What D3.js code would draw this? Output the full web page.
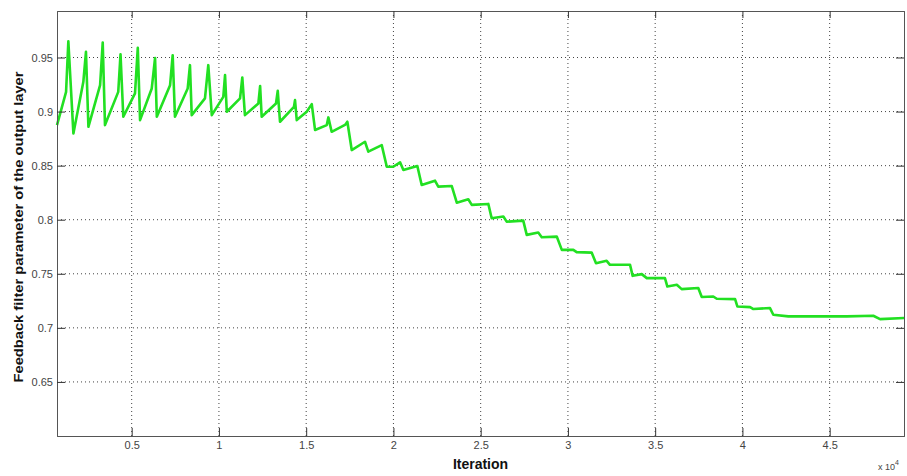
<!DOCTYPE html>
<html>
<head>
<meta charset="utf-8">
<script src="https://cdn.jsdelivr.net/npm/d3@7"></script>
<style>
  body { margin: 0; background: #fff; }
  svg { display: block; font-family: "Liberation Sans", Arial, sans-serif; }
  .tick text { fill: #444; font-size: 11px; }
  .grid line { stroke: #444; stroke-dasharray: 1,3; }
</style>
</head>
<body>
<svg id="chart" width="907" height="476"></svg>
<script>
// iteration counts and the feedback filter parameter
var iterations = [
  720, 1240, 1370, 1660, 2230, 2380, 2520, 3190, 3340, 3470,
  4230, 4360, 4520, 5190, 5350, 5480, 6150, 6340, 6440, 7200,
  7350, 7480, 8210, 8340, 8440, 9200, 9390, 9590, 10250, 10350,
  10450, 11210, 11340, 11490, 12260, 12360, 12450, 13270, 13370, 13500,
  14300, 14360, 14460, 15030, 15320, 15510, 16180, 16270, 16460, 17250,
  17360, 17610, 18370, 18560, 19330, 19620, 19990, 20380, 20570, 21370,
  21620, 22380, 22570, 23340, 23630, 24290, 24490, 25440, 25630, 26300,
  26490, 27440, 27640, 28300, 28500, 29360, 29650, 30310, 30500, 31360,
  31610, 32220, 32410, 33560, 33710, 34230, 34520, 35560, 35700, 36240,
  36520, 37470, 37670, 38330, 38530, 39580, 39710, 40440, 40630, 41580,
  41770, 42630, 45980, 47500, 47890, 49260
]
var feedbackParam = [
  0.8875, 0.9182, 0.9650, 0.8798, 0.9275, 0.9552, 0.8859, 0.9244, 0.9638, 0.8875,
  0.9182, 0.9530, 0.8952, 0.9168, 0.9589, 0.8921, 0.9214, 0.9496, 0.8952, 0.9244,
  0.9521, 0.8952, 0.9214, 0.9429, 0.8967, 0.9122, 0.9429, 0.8967, 0.9136, 0.9337,
  0.8998, 0.9122, 0.9315, 0.8967, 0.9075, 0.9235, 0.8952, 0.9075, 0.9192, 0.8906,
  0.9044, 0.9106, 0.8921, 0.8998, 0.9069, 0.8829, 0.8875, 0.8946, 0.8813, 0.8880,
  0.8906, 0.8644, 0.8721, 0.8629, 0.8690, 0.8490, 0.8490, 0.8531, 0.8460, 0.8497,
  0.8321, 0.8361, 0.8306, 0.8312, 0.8158, 0.8189, 0.8137, 0.8146, 0.8014, 0.8029,
  0.7982, 0.7992, 0.7860, 0.7881, 0.7838, 0.7844, 0.7721, 0.7721, 0.7700, 0.7696,
  0.7598, 0.7620, 0.7583, 0.7583, 0.7481, 0.7497, 0.7460, 0.7460, 0.7382, 0.7398,
  0.7358, 0.7368, 0.7285, 0.7290, 0.7269, 0.7266, 0.7198, 0.7192, 0.7174, 0.7183,
  0.7121, 0.7106, 0.7106, 0.7112, 0.7081, 0.7091
]
var xTicks = [5000, 10000, 15000, 20000, 25000, 30000, 35000, 40000, 45000]
var yTicks = [0.65, 0.7, 0.75, 0.8, 0.85, 0.9, 0.95]

var svg = d3.select("#chart")
var margin = {top: 11, right: 3, bottom: 40, left: 57}
var width = 907 - margin.left - margin.right
var height = 476 - margin.top - margin.bottom

var x = d3.scaleLinear().domain([720, 49260]).range([0, width])
var y = d3.scaleLinear().domain([0.6, 0.993]).range([height, 0])

var g = svg.append("g")
  .attr("transform", "translate(" + margin.left + "," + margin.top + ")")

// dotted grid
g.append("g").attr("class", "grid")
  .selectAll("line.v").data(xTicks).enter()
  .append("line")
    .attr("x1", d => x(d)).attr("x2", d => x(d))
    .attr("y1", 0).attr("y2", height)
g.append("g").attr("class", "grid")
  .selectAll("line.h").data(yTicks).enter()
  .append("line")
    .attr("x1", 0).attr("x2", width)
    .attr("y1", d => y(d)).attr("y2", d => y(d))

// the curve
var line = d3.line()
  .x((d, i) => x(iterations[i]))
  .y(d => y(d))
g.append("path")
  .datum(feedbackParam)
  .attr("fill", "none")
  .attr("stroke", "#22e022")
  .attr("stroke-width", 2.6)
  .attr("stroke-linejoin", "round")
  .attr("d", line)

// axes, matlab style: ticks pointing inward on all four sides
var fmtX = d => d3.format("")(d / 10000)
var xBottom = d3.axisBottom(x).tickValues(xTicks).tickSize(-8).tickPadding(5).tickFormat(fmtX)
var xTop = d3.axisTop(x).tickValues(xTicks).tickSize(-7).tickFormat("")
var yLeft = d3.axisLeft(y).tickValues(yTicks).tickSize(-8).tickPadding(4).tickFormat(d3.format(""))
var yRight = d3.axisRight(y).tickValues(yTicks).tickSize(-8).tickFormat("")

g.append("g").attr("transform", "translate(0," + height + ")").call(xBottom)
g.append("g").call(xTop)
g.append("g").call(yLeft)
g.append("g").attr("transform", "translate(" + width + ",0)").call(yRight)

g.selectAll(".domain").attr("stroke", "#555")
g.selectAll(".tick line").attr("stroke", "#333")

// labels
svg.append("text")
  .attr("x", margin.left + width / 2)
  .attr("y", 469)
  .attr("text-anchor", "middle")
  .attr("font-size", 14)
  .attr("font-weight", "bold")
  .attr("fill", "#111")
  .text("Iteration")

svg.append("text")
  .attr("transform", "translate(23," + (margin.top + 216) + ") rotate(-90)")
  .attr("text-anchor", "middle")
  .attr("font-size", 13.5)
  .attr("font-weight", "bold")
  .attr("fill", "#111")
  .attr("textLength", 311)
  .attr("lengthAdjust", "spacingAndGlyphs")
  .text("Feedback filter parameter of the output layer")

var expo = svg.append("text")
  .attr("x", 878)
  .attr("y", 470)
  .attr("font-size", 9)
  .attr("fill", "#444")
expo.append("tspan").text("x 10")
expo.append("tspan").attr("dy", -5).attr("font-size", 7).text("4")
</script>
</body>
</html>
